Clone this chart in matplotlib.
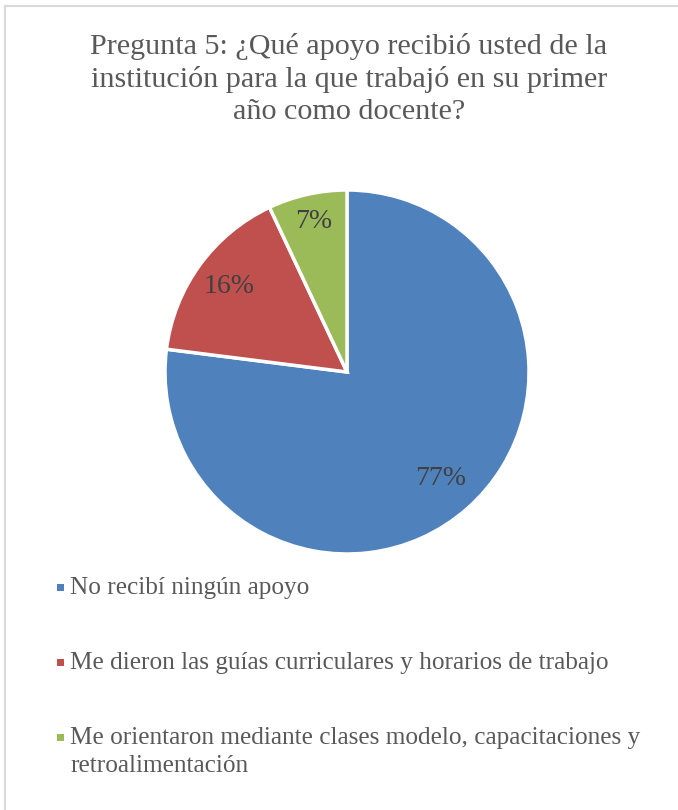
import matplotlib
matplotlib.use("Agg")
import numpy as np
import matplotlib.pyplot as plt
from matplotlib.patches import Rectangle
from matplotlib.lines import Line2D

plt.rcParams['font.family'] = ['Liberation Serif', 'DejaVu Serif']

# datos
etiquetas = ['No recibí ningún apoyo',
             'Me dieron las guías curriculares y horarios de trabajo',
             'Me orientaron mediante clases modelo, capacitaciones y\nretroalimentación']
valores = [77, 16, 7]
colores = ['#4F81BD', '#C0504D', '#9BBB59']
titulo = 'Pregunta 5: ¿Qué apoyo recibió usted de la\ninstitución para la que trabajó en su primer\naño como docente?'

W, H = 678, 810
fig = plt.figure(figsize=(W / 100, H / 100), dpi=100)

# borde gris (arriba e izquierda)
fig.add_artist(Line2D([5 / W, 1], [1 - 6 / H, 1 - 6 / H], color='#d9d9d9', lw=1.5))
fig.add_artist(Line2D([5 / W, 5 / W], [0, 1 - 6 / H], color='#d9d9d9', lw=1.5))

fig.text(349 / W, 1 - 79 / H, titulo, ha='center', va='center', fontsize=21.7,
         color='#595959', linespacing=1.27)

# pastel
cx, cy, r = 347, 372, 182
ax = fig.add_axes([(cx - r) / W, 1 - (cy + r) / H, 2 * r / W, 2 * r / H])
cunas, textos, pcts = ax.pie(valores, colors=colores, startangle=90, counterclock=False,
                             autopct='%d%%', pctdistance=0.8,
                             wedgeprops=dict(edgecolor='white', linewidth=2.5))
for w, t, d in zip(cunas, pcts, [0.78, 0.8, 0.85]):
    ang = np.deg2rad((w.theta1 + w.theta2) / 2)
    t.set_position((d * np.cos(ang), d * np.sin(ang)))
    t.set_fontsize(20)
    t.set_color('#404040')
ax.set_xlim(-1, 1)
ax.set_ylim(-1, 1)
ax.axis('off')

# leyenda
filas = [587, 662, 737]
for lab, col, y in zip(etiquetas, colores, filas):
    fig.add_artist(Rectangle((57 / W, 1 - (y + 4) / H), 7 / W, 7 / H,
                             facecolor=col, edgecolor='none', transform=fig.transFigure))
    for i, linea in enumerate(lab.split('\n')):
        fig.text(70 / W, 1 - (y + 7 + 28 * i) / H, linea, ha='left', va='baseline',
                 fontsize=18.2, color='#595959')

fig.savefig('out.png', dpi=100)
